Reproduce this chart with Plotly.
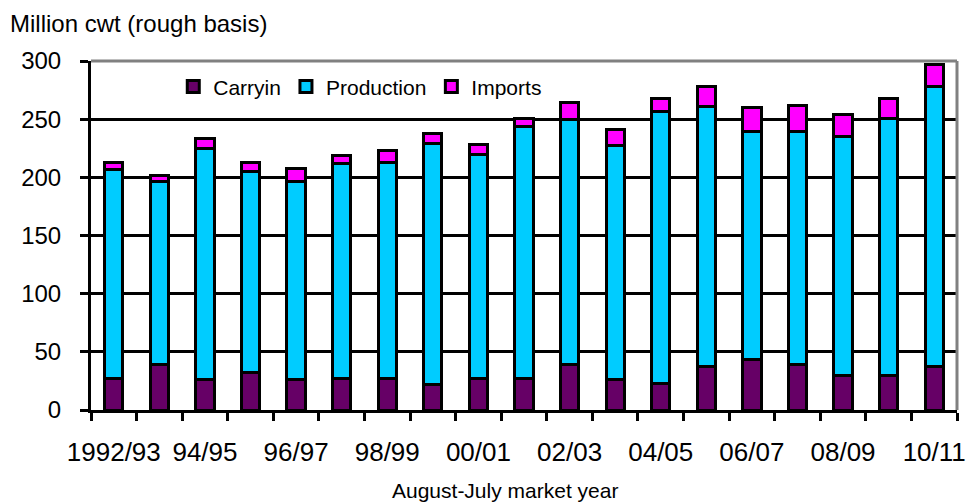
import plotly.graph_objects as go

# Rice supply by component, August-July market years (million cwt, rough basis)
years = ["1992/93", "93/94", "94/95", "95/96", "96/97", "97/98", "98/99", "99/00",
         "00/01", "01/02", "02/03", "03/04", "04/05", "05/06", "06/07", "07/08",
         "08/09", "09/10", "10/11"]
carryin = [27, 39, 26, 32, 26, 27, 27, 22, 27, 27, 39, 26, 23, 37, 43, 39, 30, 30, 37]
production = [180, 157, 199, 173, 170, 185, 186, 207, 193, 217, 211, 201, 234, 224,
              196, 200, 205, 221, 241]
imports = [6, 6, 8, 8, 12, 7, 10, 9, 8, 7, 14, 14, 11, 17, 21, 23, 19, 17, 19]

y_ticks = [0, 50, 100, 150, 200, 250, 300]

FONT = "Liberation Sans, Arial, sans-serif"
series = [
    ("Carryin", carryin, "#660066"),
    ("Production", production, "#00CCFF"),
    ("Imports", imports, "#FF00FF"),
]

fig = go.Figure()
for name, vals, color in series:
    fig.add_trace(go.Bar(
        x=years, y=vals, name=name, width=0.4,
        marker=dict(color=color, line=dict(color="black", width=3)),
    ))

fig.update_layout(
    barmode="stack",
    width=966, height=502,
    margin=dict(l=91, r=9, t=61, b=92, autoexpand=False),
    paper_bgcolor="white", plot_bgcolor="white",
    font=dict(family=FONT, color="black"),
    title=dict(text="Million cwt (rough basis)", font=dict(size=24, family=FONT),
               xref="container", x=10 / 966, xanchor="left",
               yref="container", y=1 - 24 / 502, yanchor="middle"),
    legend=dict(orientation="h", x=0.095, xanchor="left", y=0.985, yanchor="top",
                bgcolor="white", font=dict(size=21, family=FONT),
                traceorder="normal"),
    showlegend=True,
)

fig.update_xaxes(
    type="category", tickson="boundaries", ticklabelstep=2, tickangle=0,
    ticks="outside", ticklen=8, tickwidth=3, tickcolor="black",
    showline=True, linecolor="black", linewidth=3, showgrid=False,
    tickfont=dict(size=26, family=FONT), ticklabelstandoff=17,
    range=[-0.5, len(years) - 0.5], automargin=False,
)
fig.update_yaxes(
    range=[0, 300], tickvals=y_ticks,
    ticks="outside", ticklen=8, tickwidth=3, tickcolor="black",
    showline=True, linecolor="black", linewidth=3,
    showgrid=True, gridcolor="black", gridwidth=3, zeroline=False,
    tickfont=dict(size=24, family=FONT), ticklabelstandoff=14,
    automargin=False,
)

# grey frame on the top and right edges of the plot area
fig.add_shape(type="line", xref="paper", yref="paper", x0=0, x1=1, y0=1, y1=1,
              line=dict(color="#808080", width=3), layer="above")
fig.add_shape(type="line", xref="paper", yref="paper", x0=1, x1=1, y0=0, y1=1,
              line=dict(color="#808080", width=3), layer="above")

fig.add_annotation(text="August-July market year", xref="paper", yref="paper",
                   x=(505 - 91) / 866, y=-80 / 349, xanchor="center", yanchor="middle",
                   showarrow=False, font=dict(size=21, family=FONT))

fig.write_html("out.html")
